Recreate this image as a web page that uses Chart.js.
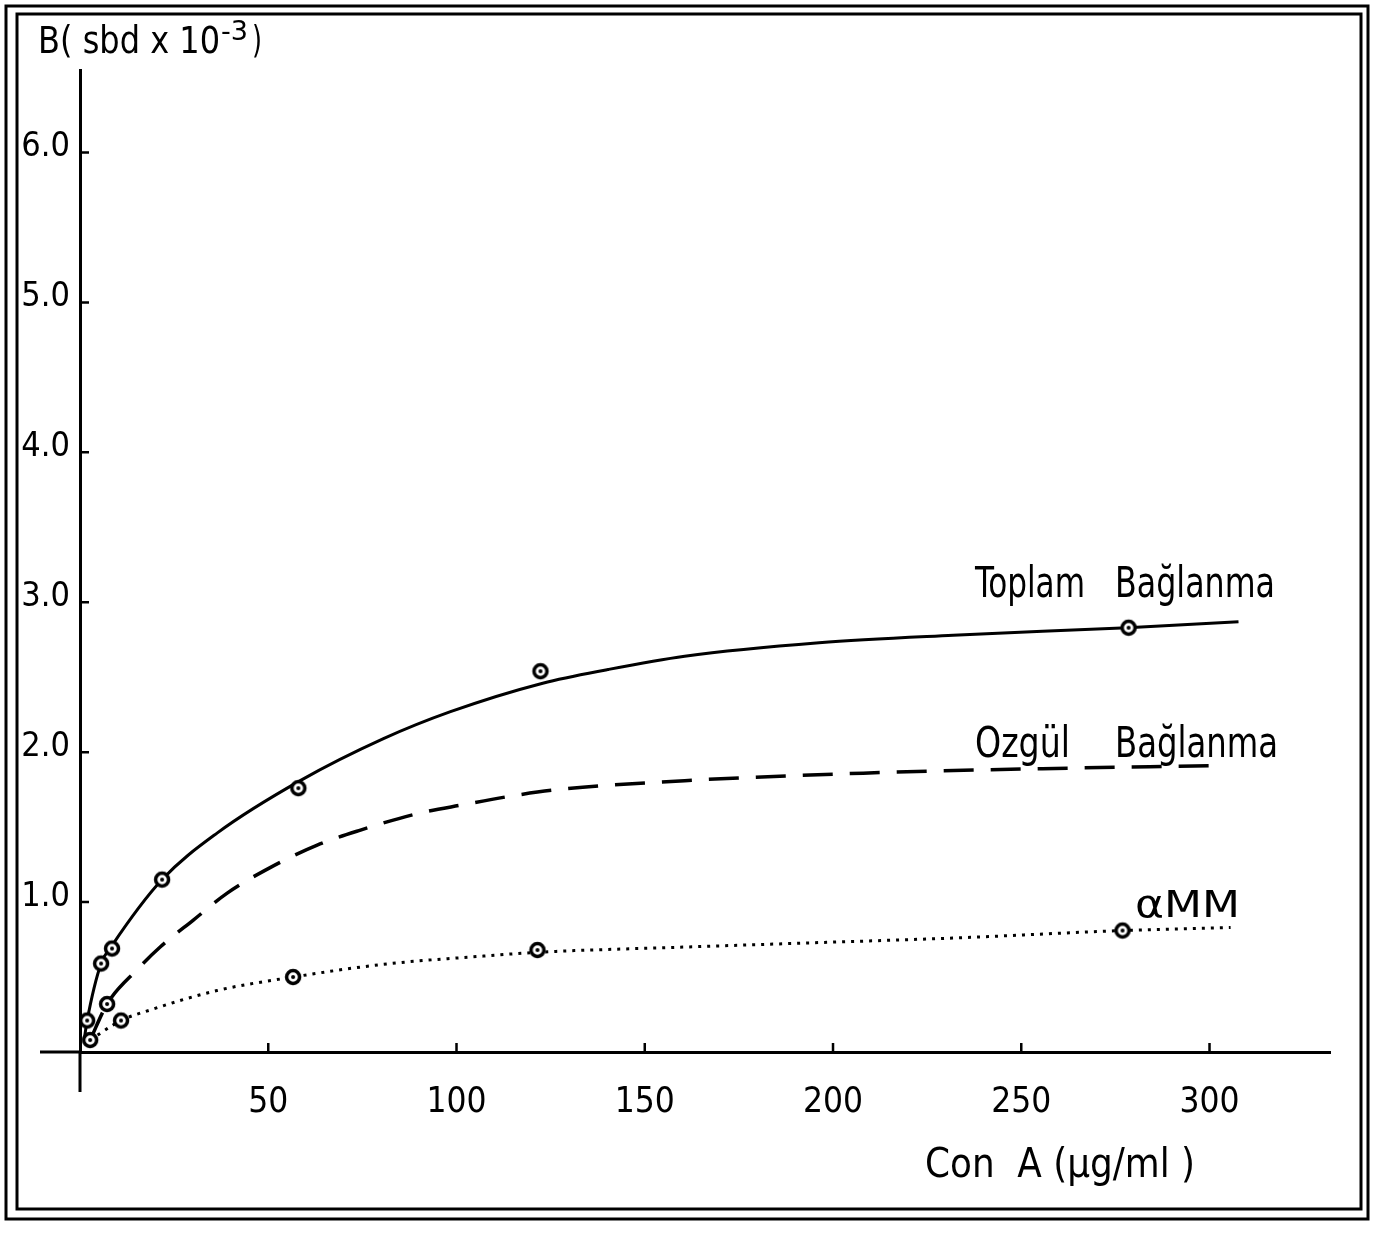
<!DOCTYPE html>
<html>
<head>
<meta charset="utf-8">
<script src="https://cdn.jsdelivr.net/npm/chart.js@4/dist/chart.umd.min.js"></script>
<style>
  body { margin: 0; background: #fff; }
  #wrap { width: 1384px; height: 1233px; }
</style>
</head>
<body>
<div id="wrap"><canvas id="chart" width="1384" height="1233"></canvas></div>
<script>
const FONT = "'Liberation Sans Narrow', 'DejaVu Sans Condensed', sans-serif";

const toplamX = [1.9, 5.6, 8.5, 21.8, 58.0, 122.3, 278.5];
const toplamY = [0.21, 0.59, 0.69, 1.15, 1.76, 2.54, 2.83];
const ozgulX = [2.7, 7.2];
const ozgulY = [0.08, 0.32];
const mmX = [10.9, 56.6, 121.5, 276.9];
const mmY = [0.21, 0.50, 0.68, 0.81];

// hand drawn curves
const toplamCurveX = [1.1, 1.9, 5.6, 8.5, 21.8, 36.4, 58.5, 80.6, 98.4, 122.9, 140.0, 160.6, 196.3, 231.9, 278.2, 307.7];
const toplamCurveY = [0.08, 0.21, 0.59, 0.71, 1.15, 1.46, 1.81, 2.09, 2.27, 2.46, 2.55, 2.64, 2.73, 2.78, 2.83, 2.87];
const ozgulCurveX = [2.7, 7.2, 15.2, 21.3, 30.1, 39.1, 50.5, 63.0, 74.5, 89.6, 101.9, 115.2, 126.9, 160.6, 208.0, 255.6, 303.2];
const ozgulCurveY = [0.08, 0.32, 0.55, 0.70, 0.88, 1.06, 1.23, 1.38, 1.48, 1.59, 1.65, 1.71, 1.75, 1.81, 1.86, 1.89, 1.91];
const mmCurveX = [2.7, 10.9, 18.6, 36.4, 56.6, 80.6, 107.2, 121.5, 160.6, 196.3, 231.9, 276.9, 305.6];
const mmCurveY = [0.08, 0.21, 0.28, 0.41, 0.50, 0.585, 0.64, 0.665, 0.70, 0.73, 0.76, 0.81, 0.83];

const xTicks = [50, 100, 150, 200, 250, 300];
const yTicks = [1, 2, 3, 4, 5, 6];

const pts = (xs, ys) => xs.map((x, i) => ({ x: x, y: ys[i] }));

// circle with a dot, like the plotted symbols
const marker = document.createElement("canvas");
marker.width = 22; marker.height = 22;
(function(){
    const c = marker.getContext("2d");
    c.fillStyle = "#fff";
    c.strokeStyle = "#000";
    c.lineWidth = 3.5;
    c.beginPath(); c.arc(11, 11, 6.5, 0, Math.PI * 2); c.fill(); c.stroke();
    c.fillStyle = "#000";
    c.beginPath(); c.arc(11, 11, 2, 0, Math.PI * 2); c.fill();
})();

const curve = (data, dash, width) => ({
    data: data,
    showLine: true,
    borderColor: "#000",
    borderWidth: width,
    borderDash: dash,
    pointRadius: 0,
    cubicInterpolationMode: "monotone",
    order: 2
});

const dots = (data) => ({
    data: data,
    showLine: false,
    pointStyle: marker,
    pointRadius: 9,
    order: 1
});

// draw text squeezed to the width it has in the drawing
function fitText(c, text, x, base, size, width){
    c.save();
    c.font = size + "px " + FONT;
    const w = c.measureText(text).width;
    c.translate(x, base);
    c.scale(width / w, 1);
    c.fillText(text, 0, 0);
    c.restore();
}

const paperPlugin = {
    id: "paper",
    beforeDraw(chart){
        const c = chart.ctx;
        c.save();
        c.fillStyle = "#fff";
        c.fillRect(0, 0, chart.width, chart.height);
        c.restore();
    },
    afterDraw(chart){
        const c = chart.ctx;
        const a = chart.chartArea;
        const xs = chart.scales.x, ys = chart.scales.y;
        c.save();
        c.strokeStyle = "#000";

        // double frame
        c.lineWidth = 3;
        c.strokeRect(6, 6, 1362, 1213);
        c.strokeRect(17, 14, 1344, 1195);

        // axis extensions
        c.beginPath();
        c.moveTo(a.left, a.bottom); c.lineTo(a.left, 1092);
        c.moveTo(40, a.bottom); c.lineTo(a.left, a.bottom);
        c.stroke();

        // inward tick marks
        c.lineWidth = 2.5;
        c.beginPath();
        yTicks.forEach(v => {
            const y = ys.getPixelForValue(v);
            c.moveTo(a.left, y); c.lineTo(a.left + 9, y);
        });
        xTicks.forEach(v => {
            const x = xs.getPixelForValue(v);
            c.moveTo(x, a.bottom); c.lineTo(x, a.bottom - 9);
        });
        c.stroke();

        // labels
        c.fillStyle = "#000";
        c.textBaseline = "alphabetic";
        c.textAlign = "left";
        fitText(c, "B( sbd x 10", 38, 53, 37, 182);
        fitText(c, "-3", 221, 40, 27, 27);
        fitText(c, ")", 252, 53, 37, 10);

        fitText(c, "Toplam", 975, 597, 42, 110);
        fitText(c, "Bağlanma", 1115, 597, 42, 160);
        fitText(c, "Ozgül", 975, 757, 42, 95);
        fitText(c, "Bağlanma", 1115, 757, 42, 163);
        fitText(c, "\u03b1MM", 1135, 917, 37, 105);
        fitText(c, "Con  A (\u00b5g/ml )", 925, 1177, 40, 270);
        c.restore();
    }
};

new Chart(document.getElementById("chart"), {
    type: "scatter",
    data: {
        datasets: [
            curve(pts(toplamCurveX, toplamCurveY), [], 3),
            curve(pts(ozgulCurveX, ozgulCurveY), [30, 17], 3.5),
            curve(pts(mmCurveX, mmCurveY), [3, 6], 3),
            dots(pts(toplamX, toplamY)),
            dots(pts(ozgulX, ozgulY)),
            dots(pts(mmX, mmY))
        ]
    },
    options: {
        responsive: false,
        devicePixelRatio: 1,
        animation: false,
        layout: { padding: { left: 0, top: 70, right: 54, bottom: 0 } },
        plugins: {
            legend: { display: false },
            tooltip: { enabled: false }
        },
        scales: {
            x: {
                type: "linear",
                min: 0,
                max: 332,
                afterFit(s){ s.height = 181; },
                border: { color: "#000", width: 3 },
                grid: { display: false, drawTicks: false },
                ticks: {
                    stepSize: 50,
                    includeBounds: false,
                    padding: 30,
                    color: "#000",
                    font: { family: FONT, size: 35 },
                    callback: v => xTicks.includes(v) ? String(v) : ""
                }
            },
            y: {
                type: "linear",
                min: 0,
                max: 6.55,
                afterFit(s){ s.width = 80; },
                border: { color: "#000", width: 3 },
                grid: { display: false, drawTicks: false },
                ticks: {
                    stepSize: 1,
                    includeBounds: false,
                    padding: 10,
                    labelOffset: -5,
                    color: "#000",
                    font: { family: FONT, size: 34 },
                    callback: v => yTicks.includes(v) ? v.toFixed(1) : ""
                }
            }
        }
    },
    plugins: [paperPlugin]
});
</script>
</body>
</html>
